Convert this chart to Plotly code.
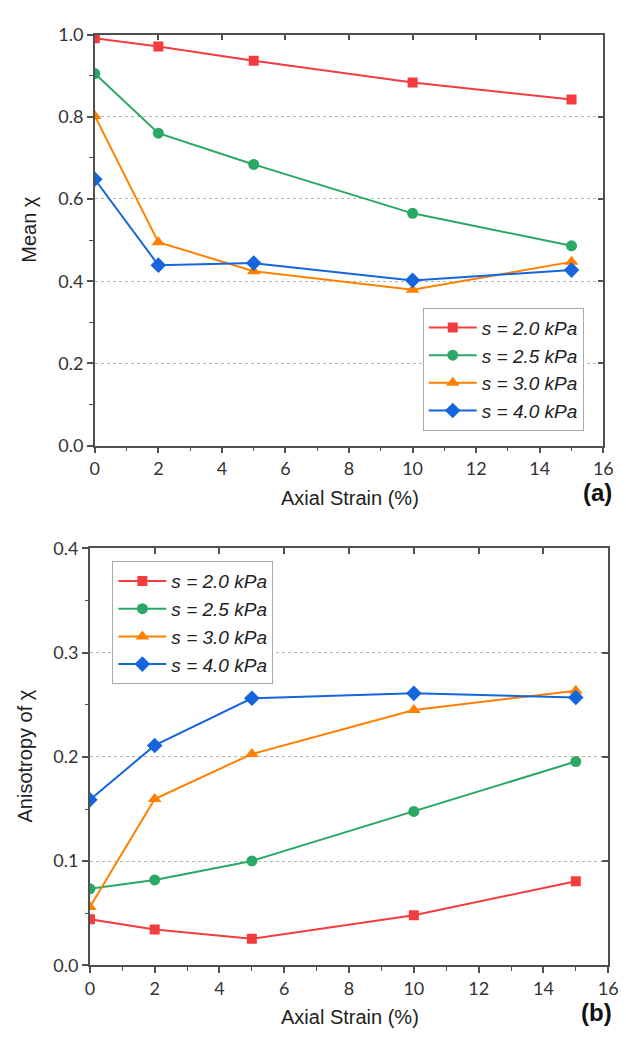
import plotly.graph_objects as go

strain = [0, 2, 5, 10, 15]
series_names = ["s = 2.0 kPa", "s = 2.5 kPa", "s = 3.0 kPa", "s = 4.0 kPa"]

mean_s20 = [0.991, 0.971, 0.936, 0.883, 0.842]
mean_s25 = [0.905, 0.760, 0.684, 0.565, 0.486]
mean_s30 = [0.802, 0.495, 0.424, 0.379, 0.447]
mean_s40 = [0.648, 0.439, 0.444, 0.402, 0.427]

aniso_s20 = [0.0444, 0.0345, 0.0256, 0.0482, 0.0808]
aniso_s25 = [0.0735, 0.082, 0.1002, 0.1477, 0.1956]
aniso_s30 = [0.056, 0.1596, 0.2028, 0.245, 0.2635]
aniso_s40 = [0.159, 0.211, 0.2563, 0.261, 0.257]

colors = ["#f43c3f", "#2ba766", "#ff8000", "#1565dc"]
symbols = ["square", "circle", "triangle-up", "diamond"]
msizes = [10, 11, 12, 12]

fig = go.Figure()

top_sets = [mean_s20, mean_s25, mean_s30, mean_s40]
bot_sets = [aniso_s20, aniso_s25, aniso_s30, aniso_s40]

for i in range(4):
    fig.add_trace(go.Scatter(
        x=strain, y=top_sets[i], mode="lines+markers", name="<i>" + series_names[i] + "</i>",
        line=dict(color=colors[i], width=2),
        marker=dict(symbol=symbols[i], size=msizes[i], color=colors[i]),
        xaxis="x", yaxis="y", legend="legend"))
for i in range(4):
    fig.add_trace(go.Scatter(
        x=strain, y=bot_sets[i], mode="lines+markers", name="<i>" + series_names[i] + "</i>",
        line=dict(color=colors[i], width=2),
        marker=dict(symbol=symbols[i], size=msizes[i], color=colors[i]),
        xaxis="x2", yaxis="y2", legend="legend2"))

# empty traces for mirror (inside tick) axes
for xa, ya in [("x3", "y3"), ("x4", "y4")]:
    fig.add_trace(go.Scatter(x=[None], y=[None], xaxis=xa, yaxis=ya,
                             showlegend=False, hoverinfo="skip"))

W, H = 626, 1042
axcol = "#505050"
tickfont = dict(family="Lato, Liberation Sans, sans-serif", size=18, color="#333333")

def xax(domain, anchor):
    return dict(domain=domain, anchor=anchor, range=[0, 16], dtick=2, tick0=0,
                showline=True, linecolor=axcol, linewidth=1.6,
                ticks="outside", ticklen=6, tickwidth=1.6, tickcolor=axcol,
                minor=dict(dtick=1, ticks="outside", ticklen=3.5, tickwidth=1.4, tickcolor=axcol),
                showgrid=False, zeroline=False, tickfont=tickfont, fixedrange=True)

def yax(domain, anchor, rng, dt):
    return dict(domain=domain, anchor=anchor, range=rng, dtick=dt, tick0=0,
                showline=True, linecolor=axcol, linewidth=1.6,
                ticks="outside", ticklen=6, tickwidth=1.6, tickcolor=axcol,
                minor=dict(dtick=dt / 2, ticks="outside", ticklen=3.5, tickwidth=1.4, tickcolor=axcol),
                showgrid=True, gridcolor="#b5b5b5", griddash="dot", gridwidth=1,
                zeroline=False, tickfont=tickfont, tickformat=".1f", fixedrange=True)

top_x = [92 / W, 613 / W]
top_y = [1 - 443 / H, 1 - 23 / H]
bot_x = [87 / W, 618 / W]
bot_y = [1 - 974 / H, 1 - 548 / H]

def mirror_x(domain, overlay, anchor):
    return dict(domain=domain, overlaying=overlay, anchor=anchor, side="top",
                range=[0, 16], dtick=2, tick0=0, showline=True, linecolor=axcol,
                linewidth=1.6, ticks="inside", ticklen=6, tickwidth=1.6, tickcolor=axcol,
                showticklabels=False, showgrid=False, zeroline=False, fixedrange=True)

def mirror_y(domain, overlay, anchor, rng, dt):
    return dict(domain=domain, overlaying=overlay, anchor=anchor, side="right",
                range=rng, dtick=dt, tick0=0, showline=True, linecolor=axcol,
                linewidth=1.6, ticks="inside", ticklen=6, tickwidth=1.6, tickcolor=axcol,
                showticklabels=False, showgrid=False, zeroline=False, fixedrange=True)

legend_common = dict(
    xref="paper", yref="paper", xanchor="left", yanchor="top",
    bgcolor="rgba(255,255,255,1)", bordercolor="#a8a8a8", borderwidth=1,
    font=dict(family="Liberation Sans, Arial, sans-serif", size=19, color="#222222"),
    itemwidth=48, tracegroupgap=0,
)

title_font = dict(family="Liberation Sans, Arial, sans-serif", size=20, color="#222222")
lab_font = dict(family="Liberation Sans, Arial, sans-serif", size=24, color="#111111")

def ann(text, x, y, font, angle=0, xa="center"):
    return dict(text=text, x=x / W, y=1 - y / H, xref="paper", yref="paper",
                xanchor=xa, yanchor="middle", textangle=angle, showarrow=False, font=font)

fig.update_layout(
    width=W, height=H, margin=dict(l=0, r=0, t=0, b=0),
    paper_bgcolor="white", plot_bgcolor="white", showlegend=True,
    xaxis=xax(top_x, "y"), yaxis=yax(top_y, "x", [0, 1.0], 0.2),
    xaxis2=xax(bot_x, "y2"), yaxis2=yax(bot_y, "x2", [0, 0.4], 0.1),
    xaxis3=mirror_x(top_x, "x", "y3"), yaxis3=mirror_y(top_y, "y", "x3", [0, 1.0], 0.2),
    xaxis4=mirror_x(bot_x, "x2", "y4"), yaxis4=mirror_y(bot_y, "y2", "x4", [0, 0.4], 0.1),
    legend=dict(x=428 / W, y=1 - 302 / H, **legend_common),
    legend2=dict(x=110 / W, y=1 - 561 / H, **legend_common),
    annotations=[
        ann("Mean χ", 25, 222, title_font, -90),
        ann("Axial Strain (%)", 353, 496, title_font),
        ann("<b>(a)</b>", 624, 491, lab_font, xa="right"),
        ann("Anisotropy of χ", 20, 760, title_font, -90),
        ann("Axial Strain (%)", 353, 1027, title_font),
        ann("<b>(b)</b>", 624, 1022, lab_font, xa="right"),
    ],
)

fig.write_html("out.html")
